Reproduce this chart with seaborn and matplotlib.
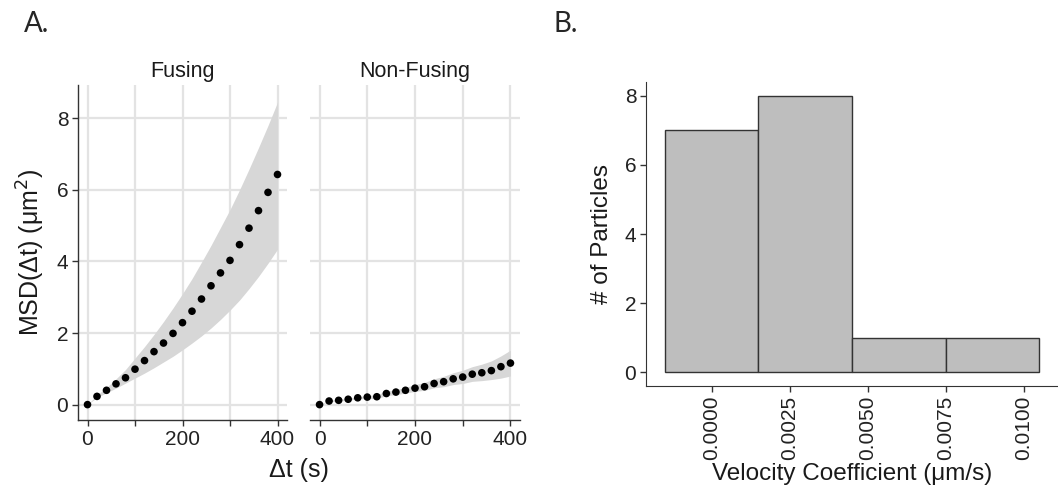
import numpy as np
import pandas as pd
import matplotlib
matplotlib.use("Agg")
import matplotlib.pyplot as plt
import seaborn as sns

# ---- MSD data (lag time in seconds) ----
lag_s = [0, 20, 40, 60, 80, 100, 120, 140, 160, 180, 200,
         220, 240, 260, 280, 300, 320, 340, 360, 380, 400]

fusing_msd = [0.00, 0.23, 0.40, 0.58, 0.75, 0.99, 1.23, 1.48, 1.72, 1.99, 2.29,
              2.61, 2.95, 3.32, 3.68, 4.03, 4.47, 4.93, 5.42, 5.93, 6.43]
fusing_hi = [0.00, 0.27, 0.48, 0.72, 0.98, 1.30, 1.62, 1.96, 2.32, 2.70, 3.10,
             3.52, 3.98, 4.45, 4.95, 5.45, 6.00, 6.58, 7.18, 7.80, 8.45]
fusing_lo = [0.00, 0.20, 0.33, 0.46, 0.60, 0.74, 0.88, 1.03, 1.19, 1.35, 1.53,
             1.72, 1.92, 2.14, 2.38, 2.64, 2.92, 3.24, 3.58, 3.95, 4.34]

nonfusing_msd = [0.00, 0.10, 0.12, 0.15, 0.19, 0.21, 0.22, 0.31, 0.35, 0.40, 0.46,
                 0.50, 0.59, 0.64, 0.72, 0.77, 0.85, 0.89, 0.95, 1.06, 1.16]
nonfusing_hi = [0.00, 0.12, 0.15, 0.18, 0.22, 0.25, 0.28, 0.37, 0.42, 0.48, 0.56,
                0.62, 0.72, 0.79, 0.89, 0.96, 1.06, 1.13, 1.22, 1.36, 1.52]
nonfusing_lo = [0.00, 0.08, 0.10, 0.12, 0.16, 0.17, 0.17, 0.25, 0.28, 0.32, 0.37,
                0.40, 0.47, 0.50, 0.56, 0.59, 0.65, 0.67, 0.70, 0.74, 0.80]

panel_names = ["Fusing", "Non-Fusing"]

# ---- velocity coefficient histogram ----
bin_edges = [-0.0015, 0.0015, 0.0045, 0.0075, 0.0105]
bin_centers = [0.0000, 0.0030, 0.0060, 0.0090]
bin_counts = [7, 8, 1, 1]
vel_ticks = [0.0000, 0.0025, 0.0050, 0.0075, 0.0100]
vel_tick_labels = ["0.0000", "0.0025", "0.0050", "0.0075", "0.0100"]

msd_xticks = [0, 100, 200, 300, 400]
msd_xtick_labels = ["0", "", "200", "", "400"]
msd_yticks = [0, 2, 4, 6, 8]

sns.set_style("ticks")
plt.rcParams["font.family"] = ["Liberation Sans", "DejaVu Sans"]
plt.rcParams["axes.edgecolor"] = "#333333"
plt.rcParams["xtick.color"] = "#333333"
plt.rcParams["ytick.color"] = "#333333"
plt.rcParams["xtick.labelcolor"] = "#222222"
plt.rcParams["ytick.labelcolor"] = "#222222"

W, H = 1058, 490
fig = plt.figure(figsize=(W / 100, H / 100), dpi=100)


def px_axes(left, top, right, bottom):
    return fig.add_axes([left / W, 1 - bottom / H, (right - left) / W, (bottom - top) / H])


ax_f = px_axes(78, 85, 287, 420)
ax_n = px_axes(310, 85, 520, 420)
ax_h = px_axes(646, 82, 1058, 386)

grid_color = "#e3e3e3"
band_color = "#d7d7d7"

msd_sets = [
    (ax_f, fusing_msd, fusing_lo, fusing_hi),
    (ax_n, nonfusing_msd, nonfusing_lo, nonfusing_hi),
]

for i, (ax, msd, lo, hi) in enumerate(msd_sets):
    df = pd.DataFrame({"lag": lag_s, "msd": msd, "lo": lo, "hi": hi})
    ax.fill_between(df["lag"], df["lo"], df["hi"], color=band_color, lw=0, zorder=1)
    sns.scatterplot(data=df, x="lag", y="msd", ax=ax, color="black", s=30,
                    edgecolor="none", zorder=3)
    ax.set_xlim(-20, 420)
    ax.set_ylim(-0.43, 8.93)
    ax.set_xticks(msd_xticks)
    ax.set_xticklabels(msd_xtick_labels)
    ax.set_yticks(msd_yticks)
    ax.grid(True, color=grid_color, lw=1.6, zorder=0)
    ax.set_axisbelow(True)
    ax.set_xlabel("")
    ax.set_ylabel("")
    ax.tick_params(axis="both", labelsize=15, length=4, width=1, pad=3)
    ax.set_title(panel_names[i], fontsize=15.5, pad=6, color="#1a1a1a")
    for side in ["top", "right"]:
        ax.spines[side].set_visible(False)
    ax.spines["bottom"].set_linewidth(1.0)
    ax.spines["left"].set_linewidth(1.0)
    if i == 1:
        ax.spines["left"].set_visible(False)
        ax.tick_params(axis="y", length=0, labelleft=False)

ax_f.set_ylabel("MSD(Δt) (μm$^2$)", fontsize=18, labelpad=7, color="#1a1a1a")
fig.text(299 / W, 1 - 470 / H, "Δt (s)", ha="center", va="center",
         fontsize=18, color="#1a1a1a")

# ---- histogram panel ----
sns.histplot(x=bin_centers, weights=bin_counts, bins=bin_edges, ax=ax_h,
             color="#bebebe", edgecolor="#333333", linewidth=1.0, alpha=1.0)
ax_h.set_xlim(-0.0021, 0.0111)
ax_h.set_ylim(-0.4, 8.4)
ax_h.set_xticks(vel_ticks)
ax_h.set_xticklabels(vel_tick_labels, rotation=90)
ax_h.set_yticks([0, 2, 4, 6, 8])
ax_h.grid(False)
ax_h.tick_params(axis="both", labelsize=15, length=4, width=1, pad=3)
ax_h.set_xlabel("Velocity Coefficient (μm/s)", fontsize=17.5, labelpad=2, color="#1a1a1a")
ax_h.set_ylabel("# of Particles", fontsize=17.5, labelpad=8, color="#1a1a1a")
for side in ["top", "right"]:
    ax_h.spines[side].set_visible(False)

# ---- panel letters ----
fig.text(24 / W, 1 - 24 / H, "A.", ha="left", va="center", fontsize=20,
         family=["Lato", "DejaVu Sans"])
fig.text(553 / W, 1 - 24 / H, "B.", ha="left", va="center", fontsize=20,
         family=["Lato", "DejaVu Sans"])

fig.savefig("out.png", dpi=100)
